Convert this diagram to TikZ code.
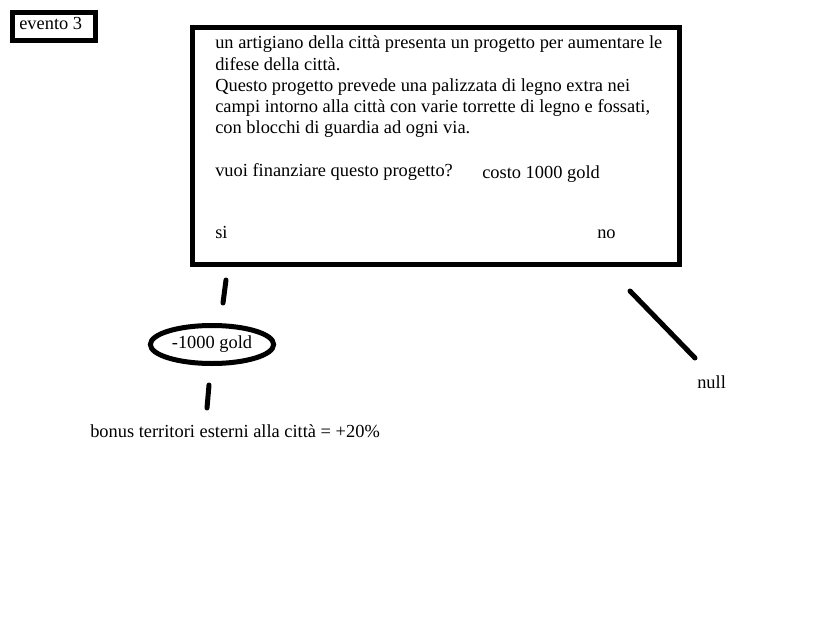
\documentclass[tikz,border=0pt]{standalone}
\usepackage{fontspec}
\setmainfont{Liberation Serif}
\usetikzlibrary{shapes.geometric}
\tikzset{
    stroke/.style={line width=3.75pt, line cap=round},
    txt/.style={inner sep=0pt, anchor=base west, font=\fontsize{13.8}{15.75}\selectfont}
}
\begin{document}
\begin{tikzpicture}[x=0.75pt, y=-0.75pt]
        \useasboundingbox (0, 0) rectangle (820, 638);
        \draw[line width=3.75pt] (12.5, 12.5) rectangle (95.5, 40.5);
        \node[txt] (evento) at (19, 29.5) {evento 3};
        \draw[line width=3.75pt] (192.5, 27.5) rectangle (679.5, 264.5);
        \node[txt, align=left] (testo) at (215, 133) {un artigiano della città presenta un progetto per aumentare le\\difese della città.\\Questo progetto prevede una palizzata di legno extra nei\\campi intorno alla città con varie torrette di legno e fossati,\\con blocchi di guardia ad ogni via.};
        \node[txt] (domanda) at (215, 176) {vuoi finanziare questo progetto?};
        \node[txt] (costo) at (482, 178) {costo 1000 gold};
        \node[txt] (si) at (215, 238) {si};
        \node[txt] (no) at (597, 238) {no};
        \coordinate (si1) at (226, 280);
        \coordinate (si2) at (223, 303);
        \draw[stroke] (si1) -- (si2);
        \node[draw, ellipse, line width=3.75pt, minimum width=92.5pt, minimum height=28.5pt, inner sep=0pt, font=\fontsize{13.8}{15.75}\selectfont] (spesa) at (212, 344.5) {-1000 gold};
        \coordinate (sp1) at (209, 385);
        \coordinate (sp2) at (207, 408);
        \draw[stroke] (sp1) -- (sp2);
        \node[txt] (bonus) at (90, 437) {bonus territori esterni alla città = +20\%};
        \coordinate (no1) at (630, 291);
        \coordinate (no2) at (695, 358);
        \draw[stroke] (no1) -- (no2);
        \node[txt] (null) at (697, 388) {null};
    \end{tikzpicture}
\end{document}
